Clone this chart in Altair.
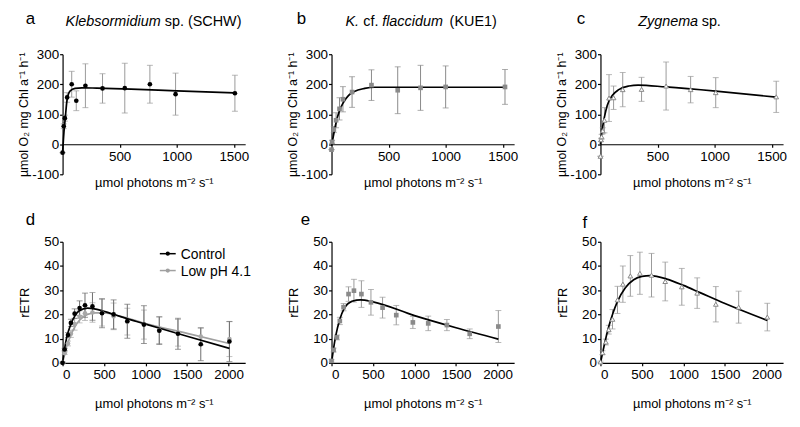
import altair as alt
import pandas as pd

FONT = "Liberation Sans"

# ---------------- data ----------------
# (a) Klebsormidium sp. (SCHW) - O2 production
A_X = [0, 10, 20, 40, 80, 120, 200, 350, 545, 765, 990, 1510]
A_Y = [-28, 60, 87, 156, 200, 145, 195, 186, 187, 200, 167, 170]
A_ERR = [0, 8, 10, 16, 43, 33, 73, 49, 83, 63, 70, 60]
A_CX = [0, 12, 23, 40, 67, 110, 170, 300, 600, 1000, 1510]
A_CY = [-30, 40, 85, 150, 178, 186, 188, 187, 184, 178, 171]

# (b) K. cf. flaccidum (KUE1)
B_X = [0, 5, 20, 40, 70, 100, 180, 350, 580, 780, 1000, 1520]
B_Y = [-18, 8, 49, 80, 118, 150, 174, 197, 180, 188, 191, 191]
B_ERR = [0, 5, 10, 25, 37, 42, 51, 51, 78, 75, 70, 58]
B_CX = [0, 10, 25, 45, 70, 105, 150, 200, 290, 380, 600, 1000, 1520]
B_CY = [-5, 15, 45, 80, 112, 140, 163, 176, 186, 190, 190, 190, 190]

# (c) Zygnema sp.
C_X = [0, 5, 10, 20, 35, 75, 115, 195, 360, 575, 790, 1010, 1540]
C_Y = [-40, 15, 25, 45, 80, 154, 155, 182, 183, 194, 182, 172, 158]
C_ERR = [0, 5, 8, 10, 42, 78, 39, 57, 40, 80, 44, 50, 52]
C_CX = [0, 10, 20, 35, 60, 105, 160, 250, 330, 570, 1010, 1540]
C_CY = [0, 35, 60, 91, 130, 163, 182, 194, 197, 191, 177, 157]

# (d-f) rETR light curves
PAR = [0, 25, 65, 100, 145, 205, 270, 360, 475, 615, 780, 980, 1165, 1390, 1665, 2010]

D_CTRL_Y = [0, 5.5, 11.5, 16.5, 20.3, 22.6, 23.8, 23.3, 20.5, 20.0, 17.2, 15.8, 13.3, 12.0, 7.7, 8.8]
D_CTRL_ERR = [0.3, 0.5, 1.0, 1.5, 2.0, 3.0, 5.0, 5.7, 6.0, 6.0, 7.0, 7.8, 5.7, 6.4, 6.8, 8.3]
D_LOW_Y = [0, 4.0, 8.0, 12.0, 16.0, 19.0, 20.5, 20.8, 20.7, 19.2, 17.0, 15.8, 13.5, 12.4, 10.8, 9.8]
D_LOW_ERR = [0.3, 0.5, 1.0, 1.5, 2.5, 2.5, 3.0, 4.0, 5.5, 5.5, 5.5, 6.0, 5.5, 5.5, 3.5, 7.2]
D_CTRL_CX = [0, 25, 50, 100, 150, 200, 300, 400, 600, 800, 1000, 1500, 2010]
D_CTRL_CY = [0, 6, 10.5, 16, 19.5, 21.5, 22.6, 22.2, 20.2, 18, 16, 11, 6]
D_LOW_CX = [0, 50, 100, 150, 200, 300, 400, 500, 700, 1000, 1500, 2010]
D_LOW_CY = [0, 7, 11.5, 15, 17.5, 20, 20.6, 20.6, 19.2, 16.2, 12.2, 8]

E_Y = [0.8, 5.3, 10.5, 17.3, 23.0, 28.4, 29.8, 28.4, 25.0, 22.8, 19.7, 16.7, 16.3, 15.6, 12.0, 15.0]
E_ERR = [0.5, 0.8, 1.0, 1.5, 1.5, 3.0, 4.7, 5.5, 5.3, 4.3, 4.0, 2.5, 3.0, 2.3, 2.0, 6.6]
E_CX = [0, 25, 50, 100, 150, 200, 300, 350, 500, 1000, 1500, 2010]
E_CY = [0, 6, 11, 18, 22.3, 24.5, 25.9, 26, 25.2, 19.5, 14.5, 9.8]

F_Y = [0.4, 4.2, 8.6, 13.7, 18.0, 26.0, 32.5, 35.9, 37.0, 36.2, 33.6, 31.4, 28.8, 24.2, 23.0, 18.9]
F_ERR = [0.3, 0.8, 1.2, 1.8, 4.0, 5.6, 7.5, 8.4, 8.7, 9.0, 8.0, 7.6, 6.3, 7.3, 6.6, 5.7]
F_CX = [0, 25, 50, 100, 150, 200, 300, 400, 500, 600, 800, 1000, 1200, 1500, 2010]
F_CY = [0, 4, 8, 15, 20.5, 25, 31, 34.3, 35.7, 36, 34.6, 32, 29, 24.5, 17.5]

XTITLE = "\u00b5mol photons m\u207b\u00b2 s\u207b\u00b9"
YTITLE_O2 = "\u00b5mol O\u2082  mg Chl a\u207b\u00b9  h\u207b\u00b9"
YTITLE_ETR = "rETR"

ERR_COL = "#9a9a9a"
one = pd.DataFrame({"k": [0]})

W = 184
HT = 121
HB = 122
TS = 14.5   # panel title size
LS = 17     # panel letter size


def pts_df(x, y, e):
    return pd.DataFrame({"x": x, "y": y,
                         "lo": [v - d for v, d in zip(y, e)],
                         "hi": [v + d for v, d in zip(y, e)]})


def crv_df(x, y):
    return pd.DataFrame({"x": x, "y": y})


def txt(s, x, y, size=TS, italic=False, align="left", color="black"):
    return alt.Chart(one).mark_text(
        text=s, fontSize=size, fontStyle="italic" if italic else "normal",
        align=align, baseline="alphabetic", font=FONT, color=color
    ).encode(x=alt.value(x), y=alt.value(y))


def panel(h, xdom, ydom, xvals, yvals, xoffset, ytitle, series, curves,
          extras, xtitlepad, ytitlepad, ytitlesize):
    xs = alt.Scale(domain=xdom, nice=False, zero=False)
    ys = alt.Scale(domain=ydom, nice=False, zero=False)
    xax = alt.Axis(values=xvals, title=XTITLE, offset=xoffset,
                   titlePadding=xtitlepad, labelExpr="'' + datum.value")
    yax = alt.Axis(values=yvals, title=ytitle, titlePadding=ytitlepad,
                   titleFontSize=ytitlesize, labelExpr="'' + datum.value")
    X = lambda f: alt.X(f, type="quantitative", scale=xs, axis=xax)
    Y = lambda f: alt.Y(f, type="quantitative", scale=ys, axis=yax)
    layers = []
    for s in series:
        df, ecol = s[0], s[1]
        b = alt.Chart(df)
        layers.append(b.mark_rule(color=ecol, strokeWidth=1).encode(
            x=X("x"), y=Y("lo"), y2="hi"))
        layers.append(b.mark_tick(color=ecol, size=6, thickness=1,
                                  orient="horizontal").encode(x=X("x"), y=Y("lo")))
        layers.append(b.mark_tick(color=ecol, size=6, thickness=1,
                                  orient="horizontal").encode(x=X("x"), y=Y("hi")))
    for df, col in curves:
        layers.append(alt.Chart(df).mark_line(
            color=col, strokeWidth=1.7, interpolate="monotone").encode(
            x=X("x"), y=Y("y")))
    for s in series:
        df, ecol, mk = s
        layers.append(alt.Chart(df).mark_point(**mk).encode(x=X("x"), y=Y("y")))
    layers += extras
    return alt.layer(*layers).properties(width=W, height=h)


# ---------- top row ----------
a = panel(HT, [0, 1600], [-100, 300], [500, 1000, 1500],
          [-100, 0, 100, 200, 300], -HT / 4, YTITLE_O2,
          [(pts_df(A_X, A_Y, A_ERR), ERR_COL,
            dict(shape="circle", filled=True, color="black", size=22, opacity=1))],
          [(crv_df(A_CX, A_CY), "black")],
          [txt("a", -37, -30, size=LS),
           txt("Klebsormidium", 3, -28, italic=True),
           txt("sp. (SCHW)", 103, -28)],
          14, 1, 12.5)

b = panel(HT, [0, 1600], [-100, 300], [500, 1000, 1500],
          [-100, 0, 100, 200, 300], -HT / 4, YTITLE_O2,
          [(pts_df(B_X, B_Y, B_ERR), "#8a8a8a",
            dict(shape="square", filled=True, color="#8a8a8a", size=22, opacity=1))],
          [(crv_df(B_CX, B_CY), "black")],
          [txt("b", -35, -30, size=LS),
           txt("K.", 14, -28, italic=True),
           txt("cf.", 32, -28),
           txt("flaccidum", 51, -28, italic=True),
           txt("(KUE1)", 119, -28)],
          14, 1, 12.5)

c = panel(HT, [0, 1600], [-100, 300], [500, 1000, 1500],
          [-100, 0, 100, 200, 300], -HT / 4, YTITLE_O2,
          [(pts_df(C_X, C_Y, C_ERR), ERR_COL,
            dict(shape="triangle-up", filled=True, fill="white", stroke="#888888",
                 strokeWidth=1, size=22, opacity=1))],
          [(crv_df(C_CX, C_CY), "black")],
          [txt("c", -24, -30, size=LS),
           txt("Zygnema", 38, -28, italic=True),
           txt("sp.", 102, -28)],
          14, 1, 12.5)

# ---------- bottom row ----------
legend_d = [
    alt.Chart(one).mark_rule(color="black", strokeWidth=1.5).encode(
        x=alt.value(98), x2=alt.value(114), y=alt.value(12)),
    alt.Chart(one).mark_point(shape="circle", filled=True, color="black",
                              size=18, opacity=1).encode(x=alt.value(106), y=alt.value(12)),
    txt("Control", 119, 17, size=14),
    alt.Chart(one).mark_rule(color="#a0a0a0", strokeWidth=1.5).encode(
        x=alt.value(98), x2=alt.value(114), y=alt.value(29)),
    alt.Chart(one).mark_point(shape="circle", filled=True, color="#a0a0a0",
                              size=18, opacity=1).encode(x=alt.value(106), y=alt.value(29)),
    txt("Low pH 4.1", 119, 34, size=14),
]

d = panel(HB, [0, 2200], [0, 50], [0, 500, 1000, 1500, 2000],
          [0, 10, 20, 30, 40, 50], 0, YTITLE_ETR,
          [(pts_df(PAR, D_LOW_Y, D_LOW_ERR), "#a8a8a8",
            dict(shape="circle", filled=True, color="#a8a8a8", size=22, opacity=1)),
           (pts_df(PAR, D_CTRL_Y, D_CTRL_ERR), "#6e6e6e",
            dict(shape="circle", filled=True, color="black", size=22, opacity=1))],
          [(crv_df(D_LOW_CX, D_LOW_CY), "#a0a0a0"),
           (crv_df(D_CTRL_CX, D_CTRL_CY), "black")],
          [txt("d", -37, -17, size=LS)] + legend_d,
          16, 12, 13)

e = panel(HB, [0, 2200], [0, 50], [0, 500, 1000, 1500, 2000],
          [0, 10, 20, 30, 40, 50], 0, YTITLE_ETR,
          [(pts_df(PAR, E_Y, E_ERR), ERR_COL,
            dict(shape="square", filled=True, color="#8a8a8a", size=22, opacity=1))],
          [(crv_df(E_CX, E_CY), "black")],
          [txt("e", -31, -17, size=LS)],
          16, 12, 13)

f = panel(HB, [0, 2200], [0, 50], [0, 500, 1000, 1500, 2000],
          [0, 10, 20, 30, 40, 50], 0, YTITLE_ETR,
          [(pts_df(PAR, F_Y, F_ERR), ERR_COL,
            dict(shape="triangle-up", filled=True, fill="white", stroke="#888888",
                 strokeWidth=1, size=22, opacity=1))],
          [(crv_df(F_CX, F_CY), "black")],
          [txt("f", -18, -14, size=LS)],
          16, 12, 13)

chart = alt.concat(
    a, b, c, d, e, f, columns=3, bounds="flush",
    spacing={"row": 68, "column": 87}
).configure(
    font=FONT, background="white",
    padding={"left": 9, "top": 1, "right": 5, "bottom": 5}
).configure_view(
    stroke=None
).configure_axis(
    grid=False, domainColor="black", tickColor="black", domainWidth=1.2,
    tickWidth=1.2, tickSize=3, labelColor="black", titleColor="black",
    labelFont=FONT, titleFont=FONT, labelFontSize=13.5, titleFontSize=13,
    titleFontWeight="normal"
).configure_axisX(
    labelPadding=2
).configure_axisY(
    labelPadding=1
)

chart.save("out.html", embed_options={"renderer": "svg", "actions": False})
